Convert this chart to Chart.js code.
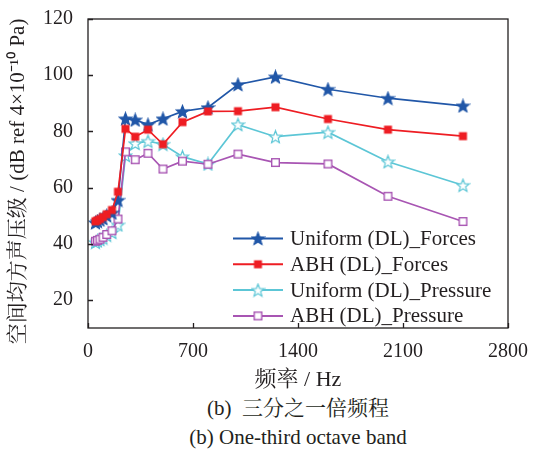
<!DOCTYPE html>
<html>
<head>
<meta charset="utf-8">
<script src="https://cdn.jsdelivr.net/npm/chart.js@4"></script>
<style>
  body { margin: 0; background: #fff; }
  #wrap { position: relative; width: 537px; height: 455px; overflow: hidden; }
  #c { position: absolute; left: 0; top: 0; }
  .cap { position: absolute; left: 88px; width: 420px; text-align: center; color: #231f20;
         font-family: "Liberation Serif", "Noto Serif CJK SC", serif; font-size: 21px; line-height: 22px; }
</style>
</head>
<body>
<div id="wrap">
  <canvas id="c" width="537" height="395"></canvas>
  <div class="cap" style="top:397px">(b)&nbsp; 三分之一倍频程</div>
  <div class="cap" style="top:426px">(b) One-third octave band</div>
</div>
<script>
// one-third octave band centre frequencies (Hz)
const freqs = [50, 63, 80, 100, 125, 160, 200, 250, 315, 400, 500, 630, 800, 1000, 1250, 1600, 2000, 2500];

const uniformForces   = [47.5, 48.0, 48.5, 49.0, 50.0, 51.0, 55.5, 84.5, 84.1, 82.4, 84.5, 87.1, 88.5, 96.7, 99.4, 95.0, 91.8, 89.1];
const abhForces       = [48.0, 48.3, 48.8, 49.5, 50.5, 52.0, 58.5, 80.9, 78.1, 80.6, 75.4, 83.3, 87.1, 87.2, 88.6, 84.4, 80.6, 78.3];
const uniformPressure = [40.5, 41.0, 41.5, 42.0, 43.0, 44.0, 46.7, 71.4, 75.7, 76.5, 75.4, 71.0, 68.4, 82.4, 78.1, 79.7, 69.2, 60.8];
const abhPressure     = [40.9, 41.2, 41.6, 42.3, 43.3, 44.6, 48.8, 72.7, 69.9, 72.2, 66.6, 69.4, 68.3, 71.9, 68.9, 68.4, 56.9, 47.9];

const seriesNames = ['Uniform (DL)_Forces', 'ABH (DL)_Forces', 'Uniform (DL)_Pressure', 'ABH (DL)_Pressure'];
const xTicks = [0, 700, 1400, 2100, 2800];
const yTicks = [20, 40, 60, 80, 100, 120];

const BLUE = '#2157a8', RED = '#ee1d23', CYAN = '#5cc6d6', PURPLE = '#a855b3';
const INK = '#231f20';
const SERIF = '"Liberation Serif", "Times New Roman", serif';
const SERIF_CJK = '"Liberation Serif", "Noto Serif CJK SC", serif';

// five-pointed star marker drawn on a small canvas
function makeStar(color, filled) {
  const s = 15, c = document.createElement('canvas');
  c.width = s; c.height = s;
  const g = c.getContext('2d');
  const R = 6.6, r = 2.8;
  g.beginPath();
  for (let i = 0; i < 10; i++) {
    const rad = i % 2 ? r : R;
    const ang = -Math.PI / 2 + i * Math.PI / 5;
    const px = s / 2 + rad * Math.cos(ang), py = s / 2 + 0.6 + rad * Math.sin(ang);
    i ? g.lineTo(px, py) : g.moveTo(px, py);
  }
  g.closePath();
  g.fillStyle = filled ? color : '#fff';
  g.fill();
  g.lineWidth = 1.2;
  g.strokeStyle = color;
  g.stroke();
  return c;
}

function makeSquare(color, filled) {
  const s = 11, c = document.createElement('canvas');
  c.width = s; c.height = s;
  const g = c.getContext('2d');
  if (filled) {
    g.fillStyle = color;
    g.fillRect(1.5, 1.5, 8, 8);
  } else {
    g.fillStyle = '#fff';
    g.fillRect(1.5, 1.5, 8, 8);
    g.strokeStyle = color;
    g.lineWidth = 1.4;
    g.strokeRect(1.7, 1.7, 7.6, 7.6);
  }
  return c;
}

const markers = [makeStar(BLUE, true), makeSquare(RED, true), makeStar(CYAN, false), makeSquare(PURPLE, false)];
const colors = [BLUE, RED, CYAN, PURPLE];
const values = [uniformForces, abhForces, uniformPressure, abhPressure];
const drawOrder = [1, 0, 3, 2];

const datasets = values.map((vals, i) => ({
  label: seriesNames[i],
  data: freqs.map((f, k) => ({ x: f, y: vals[k] })),
  borderColor: colors[i],
  backgroundColor: colors[i],
  borderWidth: 1.7,
  pointStyle: markers[i],
  pointRadius: 5,
  order: drawOrder[i]
}));

// box frame, inward ticks and the in-plot legend
const framePlugin = {
  id: 'frame',
  afterDraw(chart) {
    const { ctx, chartArea: a, scales: { x, y } } = chart;
    ctx.save();
    ctx.strokeStyle = INK;
    ctx.lineWidth = 1.3;
    ctx.strokeRect(a.left, a.top, a.right - a.left, a.bottom - a.top);
    ctx.beginPath();
    xTicks.forEach(v => {
      const px = Math.round(x.getPixelForValue(v)) + 0.5;
      ctx.moveTo(px, a.bottom); ctx.lineTo(px, a.bottom - 5);
    });
    yTicks.forEach(v => {
      const py = Math.round(y.getPixelForValue(v)) + 0.5;
      ctx.moveTo(a.left, py); ctx.lineTo(a.left + 5, py);
    });
    ctx.stroke();

    const lx0 = a.left + 145, lx1 = a.left + 195, tx = a.left + 202;
    ctx.font = '21px ' + SERIF;
    ctx.textBaseline = 'middle';
    ctx.fillStyle = INK;
    seriesNames.forEach((name, i) => {
      const ly = a.top + 219.5 + i * 25.8;
      ctx.strokeStyle = colors[i];
      ctx.lineWidth = 2;
      ctx.beginPath();
      ctx.moveTo(lx0, ly); ctx.lineTo(lx1, ly);
      ctx.stroke();
      const m = markers[i];
      ctx.drawImage(m, (lx0 + lx1) / 2 - m.width / 2, ly - m.height / 2);
      ctx.fillText(name, tx, ly + 1);
    });
    ctx.restore();
  }
};

function build() {
  new Chart(document.getElementById('c'), {
    type: 'line',
    data: { datasets },
    options: {
      responsive: false,
      animation: false,
      layout: { padding: { top: 15, right: 29, left: 0, bottom: 0 } },
      plugins: { legend: { display: false }, tooltip: { enabled: false } },
      scales: {
        x: {
          type: 'linear',
          min: 0, max: 2800,
          afterBuildTicks: s => { s.ticks = xTicks.map(v => ({ value: v })); },
          afterFit: s => { s.height = 67; },
          grid: { display: false },
          border: { display: false },
          ticks: { color: INK, font: { family: SERIF, size: 20 }, padding: 4, maxRotation: 0,
                   callback: v => String(v) },
          title: { display: true, text: '频率 / Hz', color: INK,
                   font: { family: SERIF_CJK, size: 22 },
                   padding: { top: 0, bottom: 2 } }
        },
        y: {
          min: 10, max: 120,
          afterBuildTicks: s => { s.ticks = yTicks.map(v => ({ value: v })); },
          afterFit: s => { s.width = 88; },
          grid: { display: false },
          border: { display: false },
          ticks: { color: INK, font: { family: SERIF, size: 20 }, padding: 7,
                   callback: v => String(v) },
          // trailing spaces nudge the rotated title down a little
          title: { display: true, text: '空间均方声压级 / (dB ref 4×10⁻¹⁰ Pa)   ', color: INK,
                   font: { family: SERIF_CJK, size: 21 },
                   padding: { top: 6, bottom: 0 } }
        }
      }
    },
    plugins: [framePlugin]
  });
}

Promise.all([
  document.fonts.load('20px "Liberation Serif"'),
  document.fonts.load('20px "Noto Serif CJK SC"', '频率')
]).then(build, build);
</script>
</body>
</html>
